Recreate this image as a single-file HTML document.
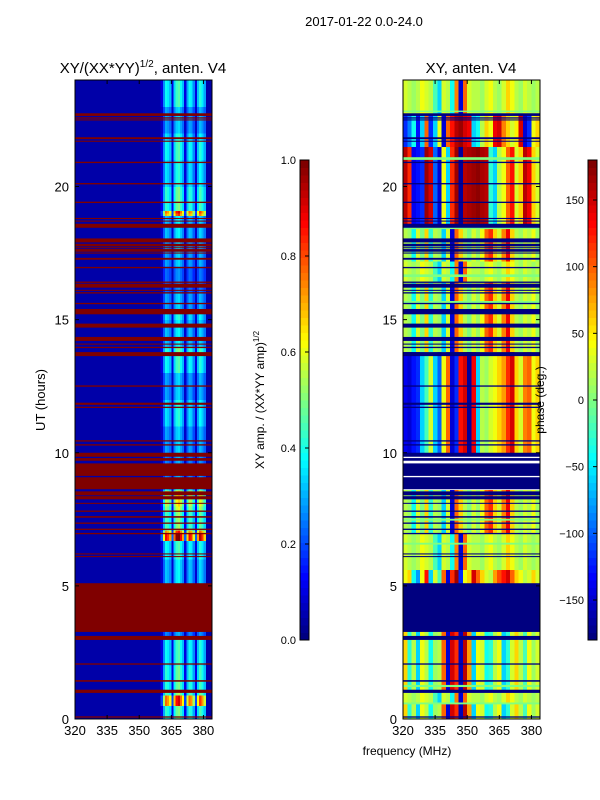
<!DOCTYPE html>
<html><head><meta charset="utf-8">
<style>
html,body{margin:0;padding:0;background:#fff;}
svg{display:block;font-family:"Liberation Sans","DejaVu Sans",sans-serif;}
</style></head>
<body>
<svg id="fig" width="600" height="800" viewBox="0 0 600 800" xmlns="http://www.w3.org/2000/svg">
<rect width="600" height="800" fill="#fff"/>
<text x="364" y="26" font-size="13" text-anchor="middle">2017-01-22 0.0-24.0</text>
<text x="143" y="73" font-size="15" text-anchor="middle">XY/(XX*YY)<tspan font-size="10" dy="-6">1/2</tspan><tspan dy="6">, anten. V4</tspan></text>
<text x="471" y="73" font-size="15" text-anchor="middle">XY, anten. V4</text>
<g id="leftPlot"></g>
<g id="rightPlot"></g>
<g id="axes"></g>
<text transform="translate(45,400) rotate(-90)" font-size="13" text-anchor="middle">UT (hours)</text>
<text x="407" y="755" font-size="12" text-anchor="middle">frequency (MHz)</text>
<text transform="translate(264,400) rotate(-90)" font-size="12" text-anchor="middle">XY amp. / (XX*YY amp)<tspan font-size="8" dy="-5">1/2</tspan></text>
<text transform="translate(544,400) rotate(-90)" font-size="12" text-anchor="middle">phase (deg.)</text>
</svg>
<script>
// ---- data ----
var freqTicks=[320,335,350,365,380];
var hourTicks=[0,5,10,15,20];
var ampTicks=[0.0,0.2,0.4,0.6,0.8,1.0];
var phaseTicks=[-150,-100,-50,0,50,100,150];
// amplitude per 1-MHz channel column (320..383)
var ampCols=[0.05,0.05,0.05,0.05,0.05,0.05,0.05,0.05,0.05,0.05,0.05,0.05,0.05,0.05,0.05,0.05,
0.05,0.05,0.05,0.05,0.05,0.05,0.05,0.05,0.05,0.05,0.05,0.05,0.05,0.05,0.05,0.05,
0.05,0.05,0.05,0.05,0.05,0.05,0.05,0.05,0.08,0.22,0.32,0.30,0.26,0.08,0.28,0.36,
0.38,0.32,0.26,0.08,0.24,0.32,0.30,0.22,0.08,0.26,0.34,0.30,0.24,0.06,0.05,0.05];
// amplitude time segments [startHour,endHour,scale]
var ampSegStart=[0,0.5,0.9,2.0,3.1,6.7,7.1,7.8,8.6,11.0,13.8,15.4,18.9,19.1,21.7];
var ampSegEnd=[0.5,0.9,2.0,3.1,6.7,7.1,7.8,8.6,11.0,13.8,15.4,18.9,19.1,21.7,24];
var ampSegScale=[1.2,2.2,1.3,1.0,1.0,2.3,1.4,1.6,1.0,1.0,1.1,0.9,2.0,1.1,1.0];
// per-hour texture multiplier (hours 0..23)
var ampHourScale=[1.1,1.0,1.2,0.8,1.0,1.0,1.2,1.0,1.1,0.8,0.9,1.1,0.9,1.2,0.9,1.0,0.8,1.0,1.1,1.2,1.0,1.1,0.9,1.2];
// flagged bands [start,end] hours
var flagStart=[0.05,0.98,1.40,2.04,2.97,3.27,6.08,6.18,6.94,7.10,7.33,7.56,7.78,8.08,8.25,8.40,8.63,9.13,9.70,9.85,10.27,10.42,11.68,11.80,12.48,13.63,13.93,14.06,14.20,14.70,15.20,15.58,15.98,16.08,16.20,16.38,16.93,17.25,17.48,17.55,17.68,17.75,17.90,18.45,18.68,18.78,19.38,20.08,20.88,21.68,21.78,22.48,22.55,22.65];
var flagEnd=[0.10,1.10,1.46,2.09,3.12,5.10,6.12,6.22,6.99,7.15,7.38,7.62,7.83,8.12,8.37,8.55,9.08,9.60,9.80,10.00,10.32,10.47,11.73,11.88,12.53,13.78,13.98,14.10,14.35,14.85,15.40,15.63,16.03,16.12,16.35,16.43,16.98,17.32,17.52,17.65,17.72,17.85,18.05,18.60,18.72,18.82,19.43,20.13,20.93,21.72,21.85,22.52,22.60,22.75];
// phase column profiles (2-MHz columns, 320..382), degrees
var prof0=[30,20,10,20,40,30,20,-20,-60,30,20,-40,90,-150,100,30,20,20,10,30,40,20,10,30,60,40,20,10,30,20,10,20];
var prof1=[160,120,-140,-130,-120,170,150,-100,-150,40,-60,120,170,-170,160,165,170,175,165,160,-30,-60,20,40,100,130,30,60,160,140,60,30];
var prof2=[-120,-90,-40,-130,-60,100,-120,-60,40,-150,100,130,160,170,150,140,-60,-40,20,60,40,140,150,90,60,30,50,150,-150,-120,40,60];
var prof3=[-140,-150,-130,-120,-60,-20,30,-60,-100,40,100,-150,-120,130,150,-170,140,-60,20,10,30,40,60,80,120,150,60,30,90,100,40,60];
var prof4=[20,10,-40,30,0,60,-30,20,10,-60,30,-150,100,60,20,0,30,10,40,100,120,60,30,90,140,60,20,10,30,20,40,10];
var prof5=[40,60,-40,-80,40,130,-60,30,-20,100,-150,120,170,-120,40,60,150,100,60,30,20,80,110,130,150,100,60,40,20,30,60,30];
var prof6=[60,-30,20,-60,40,20,-40,10,20,100,-150,150,120,-160,160,80,-60,40,30,-40,-30,20,40,-60,-30,30,60,20,-20,40,10,30];
var profiles=[prof0,prof1,prof2,prof3,prof4,prof5,prof6];
var phSegStart=[0,0.6,1.1,2.1,5.1,5.6,7.0,10.0,13.8,16.4,17.2,18.6,21.5,22.7];
var phSegEnd=[0.6,1.1,2.1,3.3,5.6,7.0,8.6,13.8,16.4,17.2,18.6,21.5,22.7,24];
var phSegProf=[6,0,6,6,5,0,4,3,4,0,4,1,2,0];
// phase "zero" rows (light green) [start,end]
var zeroStart=[0.55,1.20,6.55,7.45,8.70,9.40,15.60,16.60,18.40,21.00,22.80];
var zeroEnd=[0.62,1.28,6.62,7.52,8.78,9.48,15.70,16.70,18.50,21.10,22.85];

// ---- helpers ----
var NS="http://www.w3.org/2000/svg";
function jet(v){v=Math.max(0,Math.min(1,v));
 function c(x){return Math.round(255*Math.max(0,Math.min(1,x)));}
 return "rgb("+c(1.5-Math.abs(4*v-3))+","+c(1.5-Math.abs(4*v-2))+","+c(1.5-Math.abs(4*v-1))+")";}
function mk(tag,attrs,parent){var e=document.createElementNS(NS,tag);for(var k in attrs)e.setAttribute(k,attrs[k]);parent.appendChild(e);return e;}
var L={x0:75,x1:212},R={x0:403,x1:540},Y0=719,Y1=80;
function xs(p,f){return p.x0+(f-320)*(p.x1-p.x0)/64;}
function ys(h){return Y0-h*(Y0-Y1)/24;}
function phc(d){return jet((d+180)/360);}

// ---- left amplitude heatmap ----
var lg=document.getElementById('leftPlot');
var r=mk('rect',{x:L.x0,y:Y1,width:L.x1-L.x0,height:Y0-Y1,fill:jet(0.04),'shape-rendering':'crispEdges'},lg);


for(var s=0;s<ampSegStart.length;s++){
 for(var h=Math.floor(ampSegStart[s]);h<ampSegEnd[s];h++){
  var h0=Math.max(h,ampSegStart[s]),h1=Math.min(h+1,ampSegEnd[s]);
  if(h1<=h0)continue;
  for(var c=0;c<ampCols.length;c++){
   if(ampCols[c]<=0.06)continue;
   var v=Math.min(1,ampCols[c]*ampSegScale[s]*ampHourScale[h]);
   var e=mk('rect',{x:xs(L,320+c),y:ys(h1),width:xs(L,321+c)-xs(L,320+c)+0.3,height:ys(h0)-ys(h1)+0.3,fill:jet(v),'shape-rendering':'crispEdges'},lg);
   
   
  }
 }
}
for(var i=0;i<flagStart.length;i++){
 var e=mk('rect',{x:L.x0,y:ys(flagEnd[i]),width:L.x1-L.x0,height:Math.max(1,ys(flagStart[i])-ys(flagEnd[i])),fill:jet(1)},lg);
 
 
}

// ---- right phase heatmap ----
var rg=document.getElementById('rightPlot');
for(var s=0;s<phSegStart.length;s++){
 var p=profiles[phSegProf[s]];
 for(var c=0;c<p.length;c++){
  var e=mk('rect',{x:xs(R,320+2*c),y:ys(phSegEnd[s]),width:xs(R,322+2*c)-xs(R,320+2*c)+0.3,height:ys(phSegStart[s])-ys(phSegEnd[s])+0.3,fill:phc(p[c]),'shape-rendering':'crispEdges'},rg);
  
  
 }
}
for(var i=0;i<zeroStart.length;i++){
 var e=mk('rect',{x:R.x0,y:ys(zeroEnd[i]),width:R.x1-R.x0,height:Math.max(1,ys(zeroStart[i])-ys(zeroEnd[i])),fill:phc(0)},rg);
 
 
}
for(var i=0;i<flagStart.length;i++){
 var e=mk('rect',{x:R.x0,y:ys(flagEnd[i]),width:R.x1-R.x0,height:Math.max(1,ys(flagStart[i])-ys(flagEnd[i])),fill:phc(-180)},rg);
 
 
}

// ---- axes ----
var ag=document.getElementById('axes');
[L,R].forEach(function(P,pi){
 var b=mk('rect',{x:P.x0,y:Y1,width:P.x1-P.x0,height:Y0-Y1,fill:'none',stroke:'#000','stroke-width':1},ag);
 
 
 freqTicks.forEach(function(f){
  var x=xs(P,f);
  mk('line',{x1:x,x2:x,y1:Y0,y2:Y0-4,stroke:'#000'},ag);
  mk('line',{x1:x,x2:x,y1:Y1,y2:Y1+4,stroke:'#000'},ag);
  var t=mk('text',{x:x,y:Y0+16,'font-size':13,'text-anchor':'middle'},ag);t.textContent=f;
  
  
 });
 hourTicks.forEach(function(h){
  var y=ys(h);
  mk('line',{x1:P.x0,x2:P.x0+4,y1:y,y2:y,stroke:'#000'},ag);
  mk('line',{x1:P.x1,x2:P.x1-4,y1:y,y2:y,stroke:'#000'},ag);
  var t=mk('text',{x:P.x0-6,y:y+5,'font-size':13,'text-anchor':'end'},ag);t.textContent=h;
  
  
 });
});
// ---- colorbars ----
function colorbar(x,vals,ticks,map,name){
 var top=160,bot=640,n=64;
 for(var i=0;i<n;i++){
  var e=mk('rect',{x:x,y:bot-(i+1)*(bot-top)/n,width:9,height:(bot-top)/n+0.4,fill:map(i/(n-1)),'shape-rendering':'crispEdges'},ag);
  
  
 }
 var f=mk('rect',{x:x,y:top,width:9,height:bot-top,fill:'none',stroke:'#000'},ag);
 
 
 ticks.forEach(function(t){
  var y=bot-(t-vals[0])/(vals[1]-vals[0])*(bot-top);
  mk('line',{x1:x+9,x2:x+5,y1:y,y2:y,stroke:'#000'},ag);
  var tx=mk('text',{x:x-4,y:y+4,'font-size':11,'text-anchor':'end'},ag);
  tx.textContent=(vals[1]===1)?t.toFixed(1):(t<0?'\u2212'+(-t):t);
  
  
 });
}
colorbar(300,[0,1],ampTicks,jet,'amp-colorbar');
colorbar(588,[-180,180],phaseTicks,jet,'phase-colorbar');
</script>
</body></html>
